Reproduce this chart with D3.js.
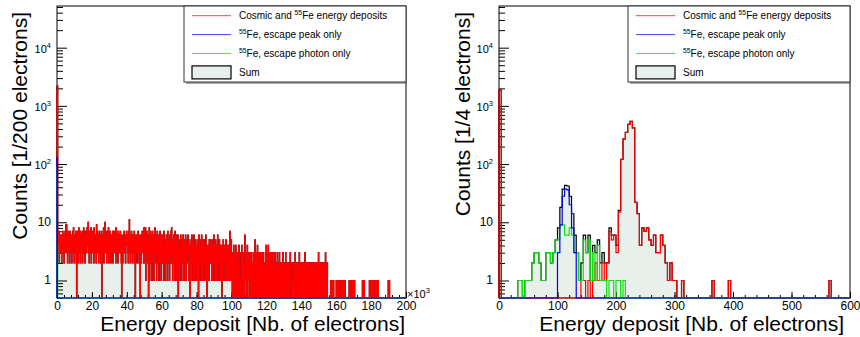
<!DOCTYPE html>
<html>
<head>
<meta charset="utf-8">
<script src="https://cdn.jsdelivr.net/npm/d3@7"></script>
<style>
  body { margin: 0; background: #fff; }
  text { font-family: "Liberation Sans", Arial, Helvetica, sans-serif; fill: #000; }
</style>
</head>
<body>
<svg id="chart" width="860" height="337"></svg>
<script>
// ---------- data ----------

// left pad: bins of 200 electrons from 0 to 200e3
const leftBinWidth = 200;
const leftXTicks = [0, 20, 40, 60, 80, 100, 120, 140, 160, 180, 200]; // x 10^3
// cosmic + 55Fe, first two bins (0-400 e-)
const cosmicLeftHead = [1900, 2200];
// remaining cosmic bins, one base-36 digit per bin, groups of 10 bins
// (row 0 starts at bin 2, every other row holds 50 bins)
const cosmicLeftRows = [
  '3547264536 4265735426 3749593527 4635274536 26374852',
  '4635720473 5284637254 6372548363 274635845a 3627453826',
  '5374628354 3629475362 4735624704 3648257a36 4527364825',
  '4736254637 2547363528 4635274536 3746204526 5373642547',
  '4635274b36 2547362645 3726045362 5473625403 6254736428',
  '3628153746 2503814726 3517246135 8362514736 2615372416',
  '4263517342 1536241735 2416357283 5142635172 3614526031',
  '4152631425 3614251362 1425363514 2041536241 5261432514',
  '3142506135 2413621452 1524316240 3142415253 2431524136',
  '4213521432 6142351324 1304215342 3142513241 2413172315',
  '2103204021 3040203102 1402310104 2013020162 1302040213',
  '2103020312 0213020531 2030402130 1203020302 3012020304',
  '2103140203 0203021030 2012302020 1302020302 0210202301',
  '1202030212 0120202031 2102010120 1030202012 2020302120',
  '2102020120 3012002120 1201202102 2020221202 1202022103',
  '2020120210 1202010203 2101200000 0000101010 1010000000',
  '1011010010 0001011010 1101010000 0000000101 1010000101',
  '1010000000 0000000000 0000010110 1000000000 0000010101',
  '1100010100 0010101011 1000000000 0000000000 0000000001',
  '1010000000 0000000000 0000000000 0000000000 0000000000'
];
const peakLeft = [[0, 130]];          // [bin start, count]
const photonLeft = [[0, 90], [200, 4]];

// right pad: bins of 4 electrons from 0 to 600
const rightBinWidth = 4;
const rightXTicks = [0, 100, 200, 300, 400, 500, 600];
const cosmicRight = [
  [0, 1870], [140, 1], [144, 1], [152, 1], [160, 1], [164, 2], [168, 1], [172, 1],
  [176, 2], [180, 1], [184, 2], [188, 7], [192, 5], [196, 6], [200, 3], [204, 15],
  [208, 120], [212, 270], [216, 350], [220, 480], [224, 540], [228, 420], [232, 22],
  [236, 14], [240, 4], [244, 8], [248, 7], [252, 8], [256, 5], [260, 4], [264, 6],
  [268, 3], [272, 3], [276, 6], [280, 4], [284, 2], [288, 1], [292, 2], [296, 1],
  [300, 1], [312, 1], [364, 1], [392, 1], [564, 1]
];
const peakRight = [
  [100, 3], [104, 9], [108, 28], [112, 37], [116, 36], [120, 20], [124, 8], [128, 3]
];
const photonRight = [
  [32, 1], [36, 1], [44, 1], [48, 1], [52, 1], [56, 2], [60, 3], [64, 3], [68, 2],
  [72, 1], [76, 1], [80, 3], [84, 3], [88, 2], [92, 3], [96, 5], [100, 5], [104, 9],
  [108, 9], [112, 6], [116, 6], [120, 8], [124, 6], [128, 3], [132, 3], [136, 1],
  [140, 1], [144, 5], [148, 3], [152, 5], [156, 1], [160, 3], [164, 1], [168, 4],
  [172, 1], [176, 1], [180, 1], [188, 1], [192, 1], [200, 1], [204, 1], [212, 1]
];

const yTickExps = [0, 1, 2, 3, 4];
const legendLabels = [
  [['Cosmic and ', false], ['55', true], ['Fe energy deposits', false]],
  [['55', true], ['Fe, escape peak only', false]],
  [['55', true], ['Fe, escape photon only', false]],
  [['Sum', false]]
];

// ---------- style ----------
const colors = { cosmic: '#ff0000', peak: '#0000ff', photon: '#10e010', sumFill: '#e8f0ec', sumLine: '#000000' };
const plotTop = 6;
const plotBottom = 298;
const yMin = 0.5;
const yMax = 5.2e4;

const svg = d3.select('#chart');

function toCounts(pairs, width, nBins) {
  const c = new Array(nBins).fill(0);
  pairs.forEach(([lo, n]) => { c[Math.round(lo / width)] += n; });
  return c;
}

function stepPoints(width, counts) {
  const pts = [[0, 0]];
  counts.forEach((c, i) => pts.push([i * width, c]));
  pts.push([counts.length * width, counts[counts.length - 1]]);
  pts.push([counts.length * width, 0]);
  return pts;
}

function richText(sel, parts, size) {
  let raised = false;
  parts.forEach(([s, sup]) => {
    let dy = 0;
    if (sup && !raised) dy = -0.42 * size;
    if (!sup && raised) dy = 0.42 * size;
    raised = sup;
    sel.append('tspan').attr('dy', dy).attr('font-size', sup ? size * 0.68 : size).text(s);
  });
}

function drawPanel(cfg) {
  const g = svg.append('g');
  const nBins = cfg.cosmic.length;
  const x = d3.scaleLinear().domain([0, nBins * cfg.binWidth]).range([cfg.left, cfg.right]);
  const y = d3.scaleLog().domain([yMin, yMax]).range([plotBottom, plotTop]);
  const yv = v => (v > 0 ? y(v) : plotBottom);

  const sum = cfg.cosmic.map((c, i) => c + cfg.peak[i] + cfg.photon[i]);

  const line = d3.line().x(d => x(d[0])).y(d => yv(d[1])).curve(d3.curveStepAfter);
  const area = d3.area().x(d => x(d[0])).y0(plotBottom).y1(d => yv(d[1])).curve(d3.curveStepAfter);

  // sum first, with the axes on top of it
  g.append('path').attr('d', area(stepPoints(cfg.binWidth, sum))).attr('fill', colors.sumFill);
  g.append('path').attr('d', line(stepPoints(cfg.binWidth, sum)))
    .attr('fill', 'none').attr('stroke', colors.sumLine).attr('stroke-width', 1.2);

  // frame
  g.append('rect')
    .attr('x', cfg.left).attr('y', plotTop)
    .attr('width', cfg.right - cfg.left).attr('height', plotBottom - plotTop)
    .attr('fill', 'none').attr('stroke', '#000').attr('stroke-width', 1);

  // x axis, ticks pointing inside
  const xMajor = cfg.xTicks.map(t => t * cfg.xUnit);
  const xMinor = d3.range(0, nBins * cfg.binWidth + 1, cfg.minorStep);
  const xMinorAxis = g.append('g').attr('transform', `translate(0,${plotBottom})`)
    .call(d3.axisBottom(x).tickValues(xMinor).tickSize(-3).tickFormat(''));
  const xAxis = g.append('g').attr('transform', `translate(0,${plotBottom})`)
    .call(d3.axisBottom(x).tickValues(xMajor).tickSize(-6).tickPadding(3)
      .tickFormat(d => d / cfg.xUnit));
  [xMinorAxis, xAxis].forEach(a => a.select('.domain').remove());
  xAxis.selectAll('text').attr('font-size', 12).attr('font-family', null);

  // y axis (log), ticks pointing inside
  const yMajor = yTickExps.map(e => Math.pow(10, e));
  const yMinor = [];
  for (let e = -1; e <= 4; e++) {
    for (let k = 2; k <= 9; k++) {
      const v = k * Math.pow(10, e);
      if (v >= yMin && v <= yMax) yMinor.push(v);
    }
  }
  const yMinorAxis = g.append('g').attr('transform', `translate(${cfg.left},0)`)
    .call(d3.axisLeft(y).tickValues(yMinor).tickSize(-6).tickFormat(''));
  const yAxis = g.append('g').attr('transform', `translate(${cfg.left},0)`)
    .call(d3.axisLeft(y).tickValues(yMajor).tickSize(-10).tickFormat(''));
  [yMinorAxis, yAxis].forEach(a => a.select('.domain').remove());

  yTickExps.forEach(e => {
    const t = g.append('text')
      .attr('x', cfg.left - 6).attr('y', y(Math.pow(10, e)) + (e > 1 ? 5 : 4))
      .attr('text-anchor', 'end').attr('font-size', 12);
    if (e === 0) t.text('1');
    else if (e === 1) t.text('10');
    else richText(t, [['10', false], [String(e), true]], 11);
  });

  // histograms drawn over the axes
  [['cosmic', cfg.cosmic], ['photon', cfg.photon], ['peak', cfg.peak]].forEach(([key, counts]) => {
    g.append('path').attr('d', line(stepPoints(cfg.binWidth, counts)))
      .attr('fill', 'none').attr('stroke', colors[key]).attr('stroke-width', 1.2);
  });

  if (cfg.exponent) {
    const t = g.append('text').attr('x', cfg.right + 1).attr('y', plotBottom).attr('font-size', 11);
    richText(t, [['\u00d710', false], [cfg.exponent, true]], 11);
  }

  // axis titles
  g.append('text')
    .attr('x', cfg.xTitleEnd).attr('y', 331)
    .attr('text-anchor', 'end').attr('font-size', 21)
    .text('Energy deposit [Nb. of electrons]');
  g.append('text')
    .attr('transform', `translate(${cfg.yTitleX},12) rotate(-90)`)
    .attr('text-anchor', 'end').attr('font-size', 21)
    .text(cfg.yTitle);

  // legend
  const lw = 222, lh = 76;
  const lx = cfg.right - lw;
  const leg = g.append('g');
  leg.append('line')
    .attr('x1', lx + 2).attr('x2', lx + lw).attr('y1', plotTop + lh + 1).attr('y2', plotTop + lh + 1)
    .attr('stroke', '#555').attr('stroke-width', 1);
  leg.append('rect')
    .attr('x', lx).attr('y', plotTop).attr('width', lw).attr('height', lh)
    .attr('fill', '#fff').attr('stroke', '#333').attr('stroke-width', 1);
  const keys = ['cosmic', 'peak', 'photon', 'sum'];
  keys.forEach((key, i) => {
    const cy = plotTop + 9.7 + i * 18.9;
    if (key === 'sum') {
      leg.append('rect').attr('x', lx + 8).attr('y', cy - 6.5).attr('width', 39).attr('height', 13)
        .attr('fill', colors.sumFill).attr('stroke', '#000').attr('stroke-width', 1.2);
    } else {
      leg.append('line').attr('x1', lx + 8).attr('x2', lx + 47).attr('y1', cy).attr('y2', cy)
        .attr('stroke', colors[key]).attr('stroke-width', 1).attr('stroke-opacity', 0.75);
    }
    const t = leg.append('text').attr('x', lx + 55).attr('y', cy + 3.5).attr('font-size', 10);
    richText(t, legendLabels[i], 10);
  });
}

const cosmicLeft = cosmicLeftHead.concat(
  cosmicLeftRows.join('').replace(/ /g, '').split('').map(c => parseInt(c, 36))
);
const leftBins = cosmicLeft.length;

drawPanel({
  left: 57, right: 406,
  binWidth: leftBinWidth,
  cosmic: cosmicLeft,
  peak: toCounts(peakLeft, leftBinWidth, leftBins),
  photon: toCounts(photonLeft, leftBinWidth, leftBins),
  xTicks: leftXTicks, xUnit: 1000, minorStep: 4000,
  exponent: '3',
  xTitleEnd: 405,
  yTitle: 'Counts [1/200 electrons]', yTitleX: 27
});

const rightBins = 150;
drawPanel({
  left: 499, right: 850,
  binWidth: rightBinWidth,
  cosmic: toCounts(cosmicRight, rightBinWidth, rightBins),
  peak: toCounts(peakRight, rightBinWidth, rightBins),
  photon: toCounts(photonRight, rightBinWidth, rightBins),
  xTicks: rightXTicks, xUnit: 1, minorStep: 20,
  exponent: null,
  xTitleEnd: 844,
  yTitle: 'Counts [1/4 electrons]', yTitleX: 470
});
</script>
</body>
</html>
